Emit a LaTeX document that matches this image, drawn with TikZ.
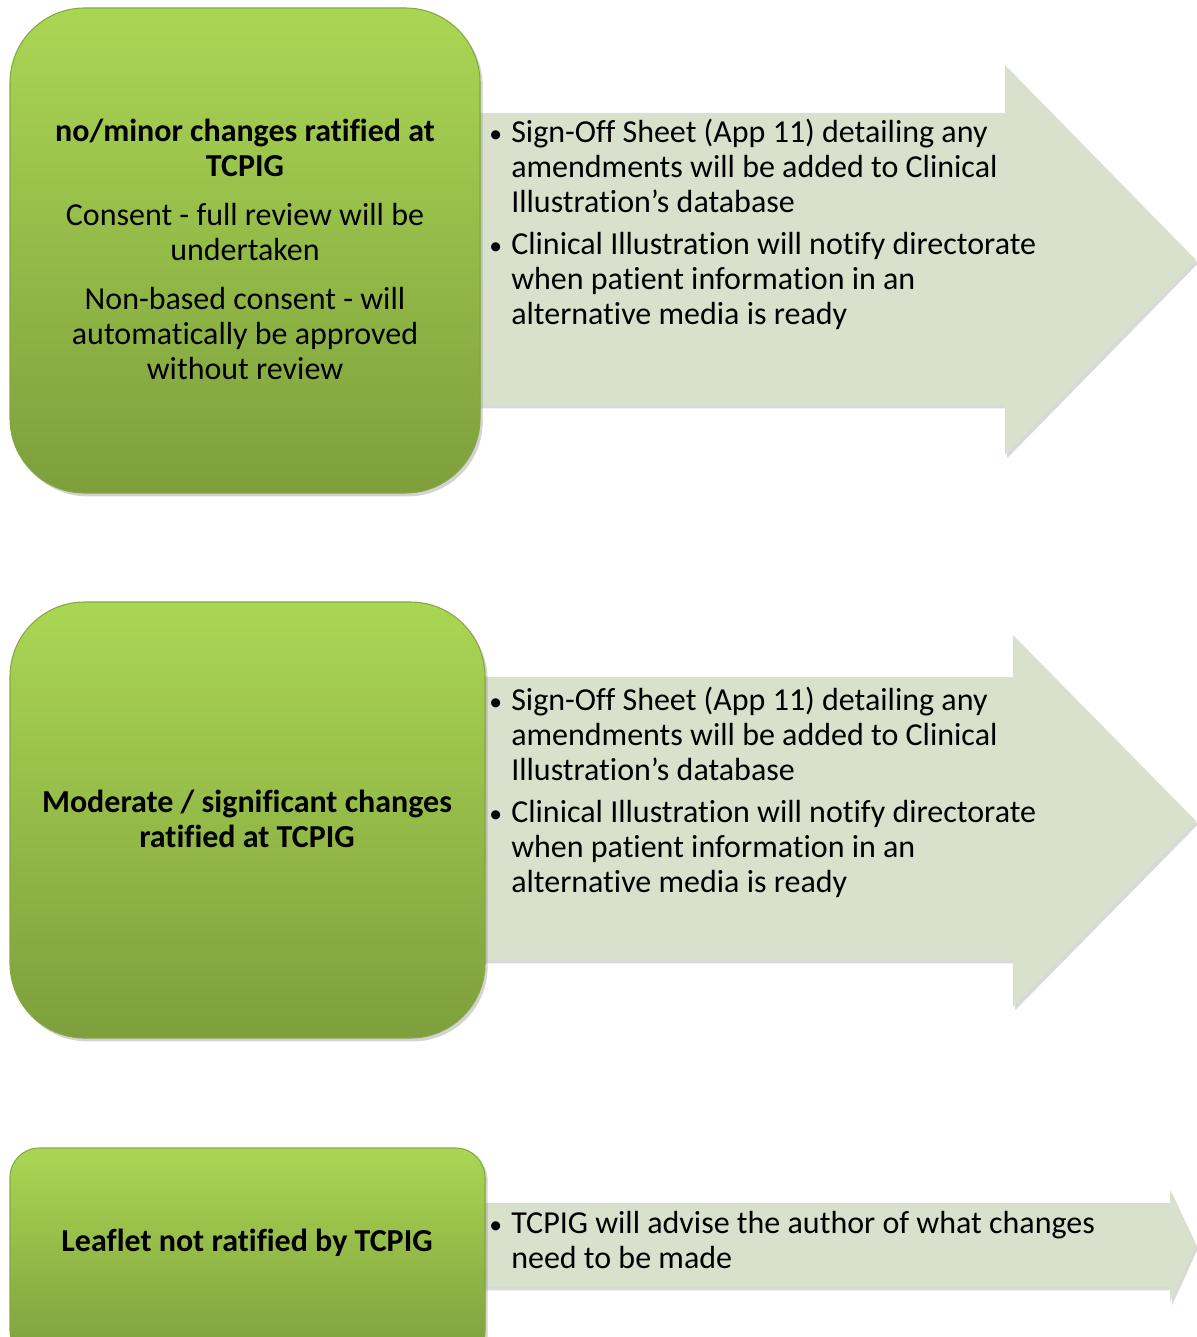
\documentclass[tikz,border=0pt]{standalone}
\usepackage{fontspec}
\setmainfont{Carlito}[Ligatures=CommonOff]
\usetikzlibrary{shadows}
\definecolor{gtop}{HTML}{AAD654}
\definecolor{gbot}{HTML}{7E9F3C}
\definecolor{gedge}{HTML}{86A840}
\definecolor{afill}{HTML}{D9E1CD}
\begin{document}
\begin{tikzpicture}[x=0.75pt,y=0.75pt,
  greenbox/.style={draw=gedge, line width=0.8pt, top color=gtop, bottom color=gbot,
    drop shadow={opacity=0.35, shadow xshift=2pt, shadow yshift=-2.5pt}},
  arrowshape/.style={fill=afill, draw=none,
    drop shadow={opacity=0.3, shadow xshift=1.5pt, shadow yshift=-2.5pt}},
  boxtext/.style={align=center, font=\fontsize{24}{26.25}\selectfont, inner sep=0pt},
  listtext/.style={align=left, font=\fontsize{24}{26.25}\selectfont, inner sep=0pt, anchor=west},
]
\useasboundingbox (0,0) rectangle (1196,-1337);
\newcommand{\bul}{\llap{\makebox[16.5pt][l]{\scalebox{0.8}{•}}}}

% --- arrows (drawn first, boxes sit on top) ---
\path[arrowshape] (470,-113) -- (1005,-113) -- (1005,-65) -- (1196,-260)
  -- (1005,-455) -- (1005,-405) -- (470,-405) -- cycle;
\path[arrowshape] (470,-677) -- (1013,-677) -- (1013,-635) -- (1196,-821)
  -- (1013,-1007) -- (1013,-960) -- (470,-960) -- cycle;
\path[arrowshape] (470,-1203) -- (1170,-1203) -- (1170,-1190) -- (1196,-1245)
  -- (1170,-1302) -- (1170,-1287) -- (470,-1287) -- cycle;

% --- green boxes ---
\path[greenbox, rounded corners=56pt] (10,-8) rectangle (480,-493);
\path[greenbox, rounded corners=56pt] (10,-602) rectangle (485,-1038);
\path[greenbox, rounded corners=22pt] (10,-1148) rectangle (485,-1360);

% --- box texts ---
\node[boxtext] (b1) at (245,-249) {\textbf{no/minor changes ratified at}\\\textbf{TCPIG}\\[10.5pt]
  Consent - full review will be\\undertaken\\[10.5pt]
  Non-based consent - will\\automatically be approved\\without review};
\node[boxtext] (b2) at (247,-819) {\textbf{Moderate / significant changes}\\\textbf{ratified at TCPIG}};
\node[boxtext] (b3) at (247,-1243) {\textbf{Leaflet not ratified by TCPIG}};

% --- arrow texts ---
\node[listtext] (a1) at (511,-224) {\bul Sign-Off Sheet (App 11) detailing any\\
  amendments will be added to Clinical\\Illustration’s database\\[5.25pt]
  \bul Clinical Illustration will notify directorate\\
  when patient information in an\\alternative media is ready};
\node[listtext] (a2) at (511,-792) {\bul Sign-Off Sheet (App 11) detailing any\\
  amendments will be added to Clinical\\Illustration’s database\\[5.25pt]
  \bul Clinical Illustration will notify directorate\\
  when patient information in an\\alternative media is ready};
\node[listtext] (a3) at (511,-1240) {\bul TCPIG will advise the author of what changes\\
  need to be made};
\end{tikzpicture}
\end{document}
